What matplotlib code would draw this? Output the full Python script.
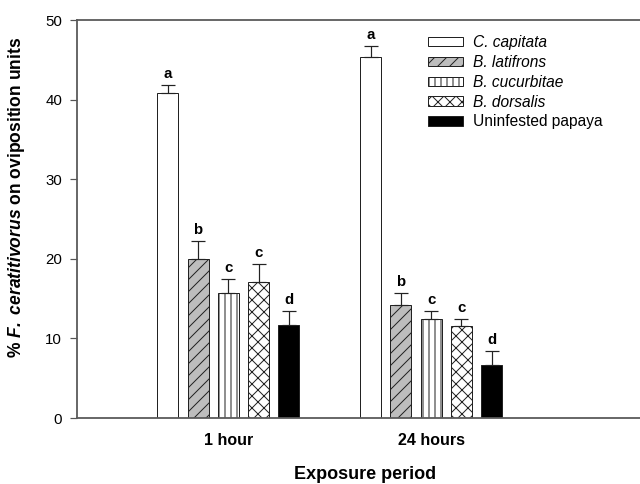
import matplotlib
matplotlib.use("Agg")
import matplotlib.pyplot as plt
import numpy as np

plt.rcParams['font.family'] = 'Liberation Sans'
plt.rcParams['mathtext.fontset'] = 'custom'
plt.rcParams['mathtext.rm'] = 'Liberation Sans'
plt.rcParams['mathtext.it'] = 'Liberation Sans:italic'
plt.rcParams['mathtext.bf'] = 'Liberation Sans:bold'
plt.rcParams['mathtext.bfit'] = 'Liberation Sans:italic:bold'
plt.rcParams['hatch.linewidth'] = 1.0

# data
periods = ['1 hour', '24 hours']
species = ['C. capitata', 'B. latifrons', 'B. cucurbitae', 'B. dorsalis', 'Uninfested papaya']
means = {
    'C. capitata':       [40.8, 45.4],
    'B. latifrons':      [20.0, 14.2],
    'B. cucurbitae':     [15.7, 12.5],
    'B. dorsalis':       [17.1, 11.5],
    'Uninfested papaya': [11.7, 6.7],
}
errs = {
    'C. capitata':       [1.0, 1.3],
    'B. latifrons':      [2.2, 1.5],
    'B. cucurbitae':     [1.7, 1.0],
    'B. dorsalis':       [2.2, 0.9],
    'Uninfested papaya': [1.7, 1.7],
}
letters = {
    'C. capitata':       ['a', 'a'],
    'B. latifrons':      ['b', 'b'],
    'B. cucurbitae':     ['c', 'c'],
    'B. dorsalis':       ['c', 'c'],
    'Uninfested papaya': ['d', 'd'],
}

# bar styles
fills = ['white', '#bdbdbd', 'white', 'white', 'black']
hatches = [None, '//', '||', 'xx', None]

# dpi 72 so that hatch spacing is close to the original
fig = plt.figure(figsize=(640 / 72, 484 / 72), dpi=72)
ax = fig.add_axes([77 / 640, 66 / 484, 563 / 640, 398 / 484])

x = np.arange(len(periods))
width = 0.103
step = 0.149

for i, sp in enumerate(species):
    pos = x + (i - 2) * step
    ax.bar(pos, means[sp], width, color=fills[i], hatch=hatches[i],
           edgecolor='#222222', linewidth=1.0, label=sp, zorder=2)
    ax.errorbar(pos, means[sp], yerr=[np.zeros(len(pos)), errs[sp]], fmt='none',
                ecolor='#222222', elinewidth=1.2, capsize=7, capthick=1.2, zorder=3)
    for p, m, e, l in zip(pos, means[sp], errs[sp], letters[sp]):
        ax.annotate(l, (p, m + e), xytext=(0, 4), textcoords='offset points',
                    ha='center', va='bottom', fontsize=15, fontweight='bold')

ax.set_xlim(-0.746, 2.03)
ax.set_ylim(0, 50)
ax.set_yticks(range(0, 51, 10))
ax.set_xticks(x)
ax.set_xticklabels(periods, fontsize=16, fontweight='bold')
ax.tick_params(axis='x', length=0, pad=15)
ax.tick_params(axis='y', length=7, width=1.2, color='#555555', labelsize=15, pad=8)

for s in ['left', 'top', 'bottom']:
    ax.spines[s].set_color('#5a5a5a')
    ax.spines[s].set_linewidth(1.8)
ax.spines['right'].set_visible(False)

ax.set_xlabel('Exposure period', fontsize=18, fontweight='bold')
ax.xaxis.set_label_coords(0.5115, -0.12)
ax.set_ylabel(r'% $\mathbfit{F.\ ceratitivorus}$ on oviposition units',
              fontsize=17.5, fontweight='bold')
ax.yaxis.set_label_coords(-0.089, 0.553)

leg = ax.legend(loc='upper left', bbox_to_anchor=(0.6234, 0.962), frameon=False,
                fontsize=15.5, handlelength=2.26, handleheight=0.55,
                handletextpad=0.65, labelspacing=0.31, borderpad=0, borderaxespad=0)
for t in leg.get_texts()[:4]:
    t.set_fontstyle('italic')

fig.savefig('out.png', dpi=72)
